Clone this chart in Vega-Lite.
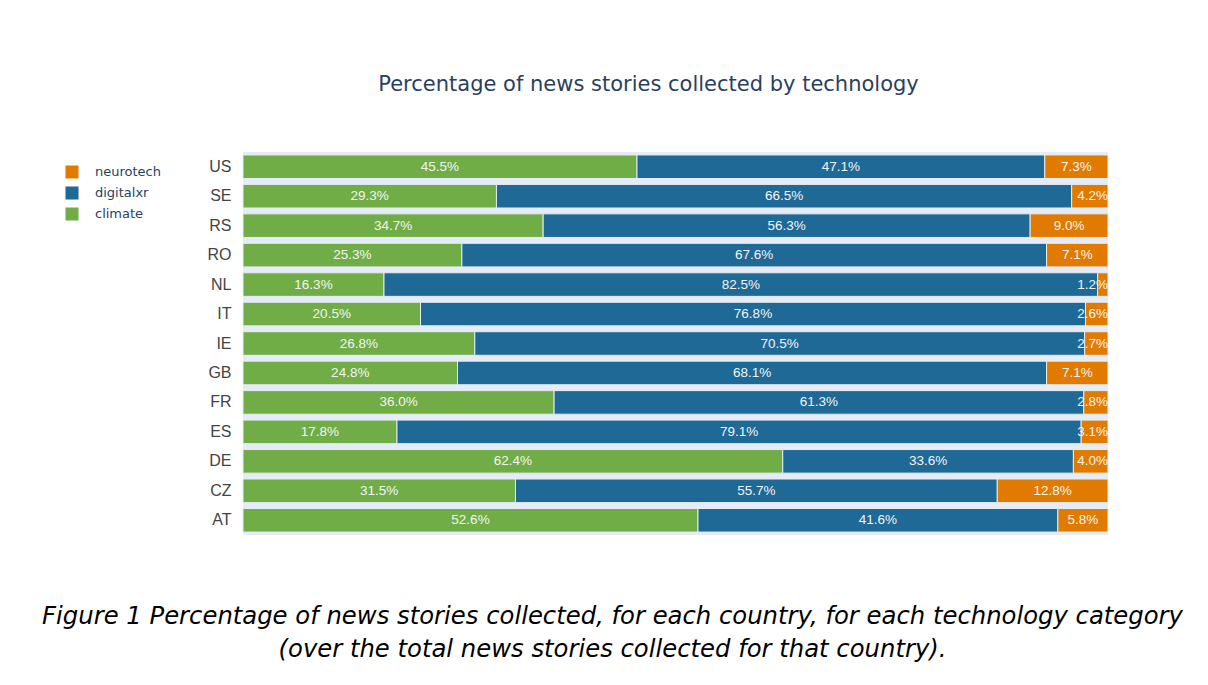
{
  "$schema": "https://vega.github.io/schema/vega-lite/v6.json",
  "autosize": "none",
  "width": 865,
  "height": 383,
  "padding": {"left": 243, "top": 152, "right": 100, "bottom": 150},
  "background": "white",
  "title": {
    "text": "Percentage of news stories collected by technology",
    "font": "DejaVu Sans",
    "fontSize": 21,
    "fontWeight": "normal",
    "color": "#2a3f5f",
    "anchor": "middle",
    "dx": -27,
    "offset": 57
  },
  "data": {
    "values": [
      {"country": "US", "tech": "climate", "ord": 1, "value": 0.455},
      {"country": "US", "tech": "digitalxr", "ord": 2, "value": 0.471},
      {"country": "US", "tech": "neurotech", "ord": 3, "value": 0.073},
      {"country": "SE", "tech": "climate", "ord": 1, "value": 0.293},
      {"country": "SE", "tech": "digitalxr", "ord": 2, "value": 0.665},
      {"country": "SE", "tech": "neurotech", "ord": 3, "value": 0.042},
      {"country": "RS", "tech": "climate", "ord": 1, "value": 0.347},
      {"country": "RS", "tech": "digitalxr", "ord": 2, "value": 0.563},
      {"country": "RS", "tech": "neurotech", "ord": 3, "value": 0.090},
      {"country": "RO", "tech": "climate", "ord": 1, "value": 0.253},
      {"country": "RO", "tech": "digitalxr", "ord": 2, "value": 0.676},
      {"country": "RO", "tech": "neurotech", "ord": 3, "value": 0.071},
      {"country": "NL", "tech": "climate", "ord": 1, "value": 0.163},
      {"country": "NL", "tech": "digitalxr", "ord": 2, "value": 0.825},
      {"country": "NL", "tech": "neurotech", "ord": 3, "value": 0.012},
      {"country": "IT", "tech": "climate", "ord": 1, "value": 0.205},
      {"country": "IT", "tech": "digitalxr", "ord": 2, "value": 0.768},
      {"country": "IT", "tech": "neurotech", "ord": 3, "value": 0.026},
      {"country": "IE", "tech": "climate", "ord": 1, "value": 0.268},
      {"country": "IE", "tech": "digitalxr", "ord": 2, "value": 0.705},
      {"country": "IE", "tech": "neurotech", "ord": 3, "value": 0.027},
      {"country": "GB", "tech": "climate", "ord": 1, "value": 0.248},
      {"country": "GB", "tech": "digitalxr", "ord": 2, "value": 0.681},
      {"country": "GB", "tech": "neurotech", "ord": 3, "value": 0.071},
      {"country": "FR", "tech": "climate", "ord": 1, "value": 0.360},
      {"country": "FR", "tech": "digitalxr", "ord": 2, "value": 0.613},
      {"country": "FR", "tech": "neurotech", "ord": 3, "value": 0.028},
      {"country": "ES", "tech": "climate", "ord": 1, "value": 0.178},
      {"country": "ES", "tech": "digitalxr", "ord": 2, "value": 0.791},
      {"country": "ES", "tech": "neurotech", "ord": 3, "value": 0.031},
      {"country": "DE", "tech": "climate", "ord": 1, "value": 0.624},
      {"country": "DE", "tech": "digitalxr", "ord": 2, "value": 0.336},
      {"country": "DE", "tech": "neurotech", "ord": 3, "value": 0.040},
      {"country": "CZ", "tech": "climate", "ord": 1, "value": 0.315},
      {"country": "CZ", "tech": "digitalxr", "ord": 2, "value": 0.557},
      {"country": "CZ", "tech": "neurotech", "ord": 3, "value": 0.128},
      {"country": "AT", "tech": "climate", "ord": 1, "value": 0.526},
      {"country": "AT", "tech": "digitalxr", "ord": 2, "value": 0.416},
      {"country": "AT", "tech": "neurotech", "ord": 3, "value": 0.058}
    ]
  },
  "encoding": {
    "y": {
      "field": "country",
      "type": "nominal",
      "sort": ["US", "SE", "RS", "RO", "NL", "IT", "IE", "GB", "FR", "ES", "DE", "CZ", "AT"],
      "scale": {"paddingInner": 0.2, "paddingOuter": 0.1},
      "axis": {
        "title": null,
        "domain": false,
        "ticks": false,
        "labelFont": "Liberation Sans",
        "labelFontSize": 16,
        "labelColor": "#444444",
        "labelPadding": 12
      }
    },
    "order": {"field": "ord", "type": "quantitative", "sort": "ascending"}
  },
  "layer": [
    {
      "mark": {"type": "bar", "stroke": "#E5ECF6", "strokeWidth": 1},
      "encoding": {
        "x": {
          "field": "value",
          "type": "quantitative",
          "stack": "normalize",
          "scale": {"domain": [0, 1], "nice": false},
          "axis": {
            "title": ["Figure 1 Percentage of news stories collected, for each country, for each technology category", "(over the total news stories collected for that country)."],
            "titleFont": "DejaVu Sans",
            "titleFontStyle": "italic",
            "titleFontWeight": "normal",
            "titleFontSize": 24.3,
            "titleColor": "#000000",
            "titleLineHeight": 33,
            "titleX": 369,
            "titleY": 69,
            "titleAlign": "center",
            "titleBaseline": "top",
            "labels": false,
            "ticks": false,
            "domain": false,
            "grid": false
          }
        },
        "color": {
          "field": "tech",
          "type": "nominal",
          "scale": {"domain": ["neurotech", "digitalxr", "climate"], "range": ["#E07B00", "#1F6996", "#70AD47"]},
          "legend": {
            "title": null,
            "orient": "none",
            "legendX": -178,
            "legendY": 13,
            "symbolType": "square",
            "symbolSize": 170,
            "symbolStrokeWidth": 0,
            "symbolOpacity": 1,
            "labelFont": "DejaVu Sans",
            "labelFontSize": 13,
            "labelColor": "#2a3f5f",
            "labelOffset": 16,
            "rowPadding": 7
          }
        }
      }
    },
    {
      "mark": {"type": "text", "color": "#f4f4f4", "font": "Liberation Sans", "fontSize": 13.5, "align": "center", "baseline": "middle"},
      "encoding": {
        "x": {"field": "value", "type": "quantitative", "stack": "normalize", "bandPosition": 0.5},
        "text": {
          "condition": {"test": "datum.value >= 0.05", "field": "value", "type": "quantitative", "format": ".1%"},
          "value": ""
        }
      }
    },
    {
      "mark": {"type": "text", "color": "#f4f4f4", "font": "Liberation Sans", "fontSize": 13.5, "align": "right", "baseline": "middle", "dx": 0},
      "encoding": {
        "x": {"field": "value", "type": "quantitative", "stack": "normalize"},
        "text": {
          "condition": {"test": "datum.value < 0.05", "field": "value", "type": "quantitative", "format": ".1%"},
          "value": ""
        }
      }
    }
  ],
  "config": {
    "view": {"fill": "#E5ECF6", "stroke": null}
  }
}
